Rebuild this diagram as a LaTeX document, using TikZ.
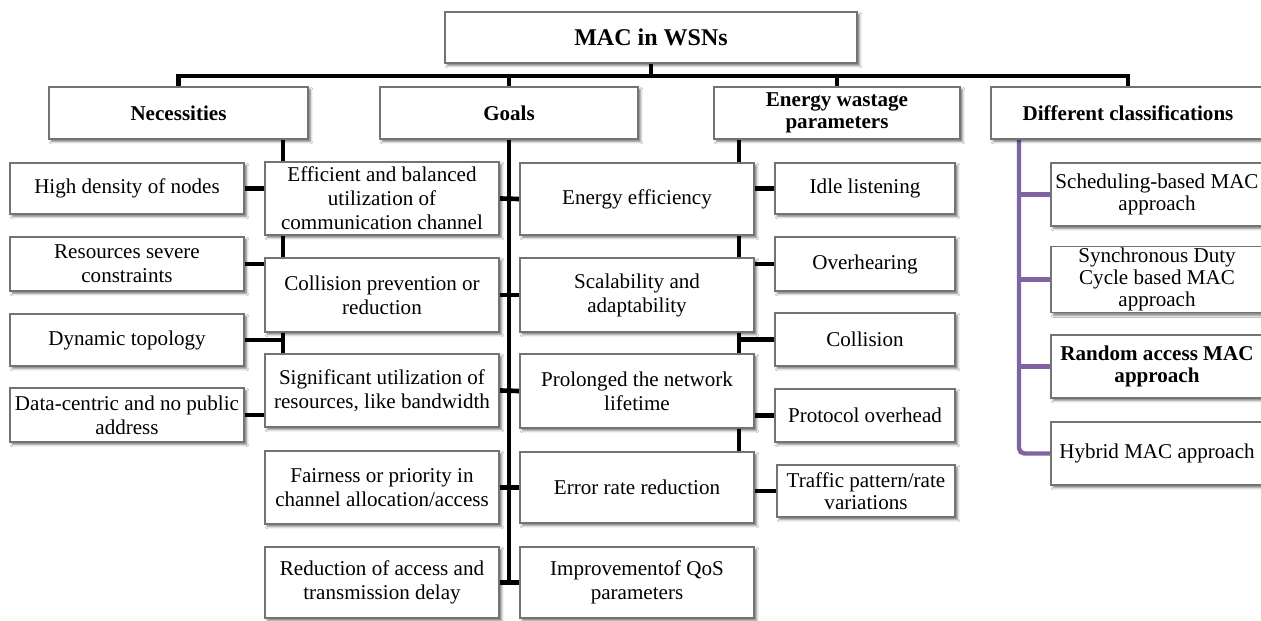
\documentclass[tikz,border=0pt]{standalone}
\usepackage{fontspec}
\setmainfont{Liberation Serif}
\usetikzlibrary{backgrounds,shadows.blur}
\definecolor{purp}{RGB}{128,100,162}
\newcommand\fsn{\fontsize{15.8}{18}\selectfont}
\newcommand\fst{\fontsize{15.8}{16.3}\selectfont}
\newcommand\boxat[7]{\node[box,#6,minimum width={(#4-#2)*0.75pt},minimum height={(#5-#3)*0.75pt}] (#1) at ({(#2+#4)/2},{(#3+#5)/2}) {#7};}
\tikzset{
  box/.style={rectangle, draw=black!55, line width=0.8pt, fill=white, inner sep=1pt, align=center, font=\fsn,
    blur shadow={shadow xshift=1.8pt, shadow yshift=-1.8pt, shadow blur radius=1.8pt, shadow opacity=55}},
  hdr/.style={font=\fst\bfseries},
  tight/.style={font=\fst},
  conn/.style={line width=3.5pt, draw=black},
  pconn/.style={line width=3.3pt, draw=purp},
}
\begin{document}
\begin{tikzpicture}[x=0.75pt, y=-0.75pt]
\useasboundingbox (0,0) rectangle (1261,621);
% headers
\boxat{root}{445}{12}{857}{63}{font=\fontsize{18}{20}\selectfont\bfseries}{MAC in WSNs}
\boxat{nec}{49}{87}{308}{139}{hdr}{Necessities}
\boxat{goals}{380}{87}{638}{139}{hdr}{Goals}
\boxat{energy}{714}{87}{960}{139}{hdr}{Energy wastage\\parameters}
\boxat{diff}{991}{87}{1265}{139}{hdr}{Different classifications}
% necessities
\boxat{hd}{10}{163}{244}{214}{}{High density of nodes}
\boxat{res}{10}{237}{244}{291}{}{Resources severe\\constraints}
\boxat{dyn}{10}{314}{244}{366}{}{Dynamic topology}
\boxat{data}{10}{388}{244}{442}{}{Data-centric and no public\\address}
% goals left
\boxat{eff}{265}{162}{499}{235}{}{Efficient and balanced\\utilization of\\communication channel}
\boxat{coll}{265}{258}{499}{332}{}{Collision prevention or\\reduction}
\boxat{sig}{265}{354}{499}{427}{}{Significant utilization of\\resources, like bandwidth}
\boxat{fair}{265}{451}{499}{524}{}{Fairness or priority in\\channel allocation/access}
\boxat{red}{265}{547}{499}{618}{}{Reduction of access and\\transmission delay}
% goals right
\boxat{ee}{520}{163}{754}{235}{}{Energy efficiency}
\boxat{scal}{520}{258}{754}{332}{}{Scalability and\\adaptability}
\boxat{prol}{520}{354}{754}{428}{}{Prolonged the network\\lifetime}
\boxat{err}{520}{452}{754}{523}{}{Error rate reduction}
\boxat{imp}{520}{547}{754}{618}{}{Improvementof QoS\\parameters}
% energy wastage
\boxat{idle}{775}{163}{955}{214}{}{Idle listening}
\boxat{over}{775}{237}{955}{291}{}{Overhearing}
\boxat{colw}{775}{313}{955}{366}{}{Collision}
\boxat{proto}{775}{389}{955}{442}{}{Protocol overhead}
\boxat{traf}{777}{465}{955}{517}{tight}{Traffic pattern/rate\\variations}
% classifications
\boxat{sched}{1051}{163}{1263}{226}{tight}{Scheduling-based MAC\\approach}
\boxat{sync}{1051}{247}{1263}{312}{font=\fontsize{15.8}{16.8}\selectfont}{Synchronous Duty\\Cycle based MAC\\approach}
\boxat{rand}{1051}{335}{1263}{398}{hdr}{Random access MAC\\approach}
\boxat{hyb}{1051}{422}{1263}{485}{}{Hybrid MAC approach}
\begin{scope}[on background layer]
\fill[white] (0,0) rectangle (1261,621);
\coordinate (bus) at (0,76);
\coordinate (nsp) at (283,0);
\coordinate (esp) at (739,0);
\coordinate (psp) at (1019,0);
% bus
\draw[conn] (root.south) -- (root.south |- bus);
\draw[conn] (nec.north) -- (nec.north |- bus) -- (diff.north |- bus) -- (diff.north);
\draw[conn] (goals.north) -- (goals.north |- bus);
\draw[conn] (energy.north) -- (energy.north |- bus);
% necessities spine
\draw[conn] (nsp |- nec.south) -- (nsp |- data.east);
\foreach \n in {hd,res,dyn,data} \draw[conn] (\n.east) -- (\n.east -| nsp);
% goals spine
\draw[conn] (goals.south) -- (goals.south |- red.east);
\draw[conn] (eff.east) -- (ee.west);
\draw[conn] (coll.east) -- (scal.west);
\draw[conn] (sig.east) -- (prol.west);
\draw[conn] (fair.east) -- (err.west);
\draw[conn] (red.east) -- (imp.west);
% energy spine
\draw[conn] (esp |- energy.south) -- (esp |- traf.west);
\foreach \n in {idle,over,colw,proto,traf} \draw[conn] (\n.west) -- (\n.west -| esp);
% classifications spine
\draw[pconn, rounded corners=4pt] (psp |- diff.south) |- (hyb.west);
\foreach \n in {sched,sync,rand} \draw[pconn] (\n.west) -- (\n.west -| psp);
\end{scope}
\end{tikzpicture}
\end{document}
